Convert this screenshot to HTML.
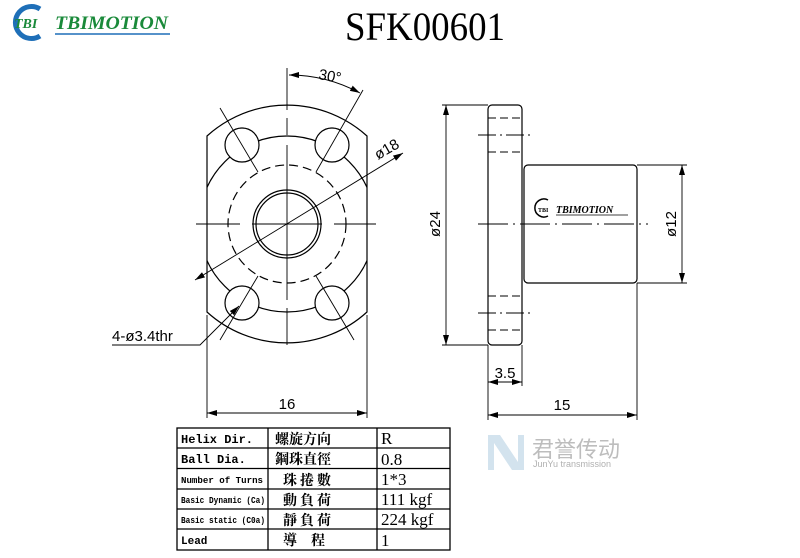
<!DOCTYPE html>
<html><head><meta charset="utf-8"><style>
html,body{margin:0;padding:0;background:#fff;}
svg{display:block;}
</style></head><body>
<svg width="800" height="558" viewBox="0 0 800 558" xmlns="http://www.w3.org/2000/svg" font-family="Liberation Sans, sans-serif">
<defs>
<marker id="a" viewBox="0 0 10 6" refX="10" refY="3" markerWidth="10" markerHeight="6" orient="auto-start-reverse" markerUnits="userSpaceOnUse"><path d="M0,0L10,3L0,6z" fill="#000"/></marker>
<clipPath id="fl"><path d="M207,136 A119,119 0 0 1 367,136 L367,312 A119,119 0 0 1 207,312 Z"/></clipPath>
</defs>
<!-- header logo -->
<path d="M40,9 A16,16 0 1 0 40,36" fill="none" stroke="#1e6fb8" stroke-width="5"/>
<text x="14" y="28" font-family="Liberation Serif, serif" font-weight="bold" font-style="italic" font-size="14" fill="#1a8a3a">TBI</text>
<text x="55" y="29" font-family="Liberation Serif, serif" font-weight="bold" font-style="italic" font-size="19" fill="#1a8a3a" textLength="113" lengthAdjust="spacingAndGlyphs">TBIMOTION</text>
<line x1="55" y1="34" x2="170" y2="34" stroke="#1e6fb8" stroke-width="1.5"/>
<text x="425" y="40" text-anchor="middle" font-family="Liberation Serif, serif" font-size="40" textLength="160" lengthAdjust="spacingAndGlyphs">SFK00601</text>

<g fill="none" stroke="#000" stroke-width="1.2">
<!-- front view -->
<path d="M207,136 A119,119 0 0 1 367,136 L367,312 A119,119 0 0 1 207,312 Z"/>
<circle cx="287" cy="224" r="88" clip-path="url(#fl)"/>
<circle cx="287" cy="224" r="59" stroke-dasharray="9,5"/>
<circle cx="287" cy="224" r="34"/>
<circle cx="287" cy="224" r="31"/>
<circle cx="242" cy="145" r="17" fill="#fff"/>
<circle cx="332" cy="145" r="17" fill="#fff"/>
<circle cx="242" cy="303" r="17" fill="#fff"/>
<circle cx="332" cy="303" r="17" fill="#fff"/>
<g stroke-width="0.9">
<line x1="287" y1="68" x2="287" y2="110"/><line x1="287" y1="118" x2="287" y2="135"/>
<line x1="287" y1="145" x2="287" y2="300"/><line x1="287" y1="308" x2="287" y2="345"/>
<line x1="196" y1="224" x2="240" y2="224"/><line x1="252" y1="224" x2="322" y2="224"/><line x1="334" y1="224" x2="376" y2="224"/>
<line x1="220" y1="108" x2="258" y2="172"/>
<line x1="363" y1="90" x2="316" y2="172"/>
<line x1="220" y1="340" x2="258" y2="276"/>
<line x1="354" y1="340" x2="316" y2="276"/>
<line x1="195" y1="280" x2="403" y2="153" marker-start="url(#a)" marker-end="url(#a)"/>
<path d="M289,75 A150,150 0 0 1 360,93" marker-start="url(#a)" marker-end="url(#a)"/>
<path d="M112,345 L200,345 L239,306" marker-end="url(#a)"/>
<line x1="207" y1="315" x2="207" y2="418"/><line x1="367" y1="315" x2="367" y2="418"/>
<line x1="207" y1="413" x2="367" y2="413" marker-start="url(#a)" marker-end="url(#a)"/>
</g>
<!-- side view -->
<rect x="488" y="105" width="34" height="240" rx="4"/>
<rect x="524" y="165" width="113" height="118" rx="4"/>
<g stroke-width="0.9">
<line x1="488" y1="118" x2="522" y2="118" stroke-dasharray="8,4"/>
<line x1="488" y1="152" x2="522" y2="152" stroke-dasharray="8,4"/>
<line x1="488" y1="296" x2="522" y2="296" stroke-dasharray="8,4"/>
<line x1="488" y1="330" x2="522" y2="330" stroke-dasharray="8,4"/>
<line x1="478" y1="135" x2="532" y2="135" stroke-dasharray="18,4,2,4"/>
<line x1="478" y1="313" x2="532" y2="313" stroke-dasharray="18,4,2,4"/>
<line x1="478" y1="224" x2="648" y2="224" stroke-dasharray="30,5,2,5"/>
<line x1="442" y1="105" x2="488" y2="105"/><line x1="442" y1="345" x2="488" y2="345"/>
<line x1="446" y1="105" x2="446" y2="345" marker-start="url(#a)" marker-end="url(#a)"/>
<line x1="637" y1="165" x2="687" y2="165"/><line x1="637" y1="283" x2="687" y2="283"/>
<line x1="682" y1="165" x2="682" y2="283" marker-start="url(#a)" marker-end="url(#a)"/>
<line x1="488" y1="345" x2="488" y2="420"/><line x1="522" y1="345" x2="522" y2="386"/>
<line x1="488" y1="382" x2="522" y2="382" marker-start="url(#a)" marker-end="url(#a)"/>
<line x1="637" y1="283" x2="637" y2="420"/>
<line x1="488" y1="415" x2="637" y2="415" marker-start="url(#a)" marker-end="url(#a)"/>
</g>
<path d="M548,200 A9,9 0 1 0 548,216" stroke-width="1.5"/>
<line x1="556" y1="215" x2="628" y2="215" stroke-width="0.8"/>
</g>
<text x="538" y="212" font-family="Liberation Serif, serif" font-size="6" font-weight="bold">TBI</text>
<text x="556" y="213" font-family="Liberation Serif, serif" font-size="10" font-weight="bold" font-style="italic">TBIMOTION</text>

<g font-size="15" fill="#000">
<text x="318" y="79" transform="rotate(10 318 79)">30°</text>
<text x="378" y="160" transform="rotate(-30 378 160)">ø18</text>
<text x="112" y="341">4-ø3.4thr</text>
<text x="287" y="409" text-anchor="middle">16</text>
<text x="440" y="224" text-anchor="middle" transform="rotate(-90 440 224)">ø24</text>
<text x="676" y="224" text-anchor="middle" transform="rotate(-90 676 224)">ø12</text>
<text x="505" y="378" text-anchor="middle">3.5</text>
<text x="562" y="410" text-anchor="middle">15</text>
</g>

<!-- table -->
<g fill="none" stroke="#000" stroke-width="1.3">
<rect x="177" y="428" width="273" height="122"/>
<line x1="268" y1="428" x2="268" y2="550"/><line x1="377" y1="428" x2="377" y2="550"/>
<line x1="177" y1="448" x2="450" y2="448"/><line x1="177" y1="468.5" x2="450" y2="468.5"/>
<line x1="177" y1="489" x2="450" y2="489"/><line x1="177" y1="509" x2="450" y2="509"/>
<line x1="177" y1="529" x2="450" y2="529"/>
</g>
<g font-family="Liberation Mono, monospace" font-weight="bold" fill="#000">
<text x="181" y="443" font-size="12">Helix  Dir.</text>
<text x="181" y="463" font-size="12">Ball Dia.</text>
<text x="181" y="483" font-size="9" textLength="82" lengthAdjust="spacingAndGlyphs">Number of Turns</text>
<text x="181" y="503" font-size="9" textLength="84" lengthAdjust="spacingAndGlyphs">Basic Dynamic (Ca)</text>
<text x="181" y="523" font-size="9" textLength="84" lengthAdjust="spacingAndGlyphs">Basic static (C0a)</text>
<text x="181" y="544" font-size="11">Lead</text>
</g>
<g font-family="Noto Serif CJK SC, Noto Sans CJK TC, serif" font-weight="bold" font-size="14" fill="#000">
<text x="275" y="444">螺旋方向</text>
<text x="275" y="464">鋼珠直徑</text>
<text x="283" y="485" letter-spacing="3">珠捲數</text>
<text x="283" y="505" letter-spacing="3">動負荷</text>
<text x="283" y="525" letter-spacing="3">靜負荷</text>
<text x="283" y="545">導　程</text>
</g>
<g font-family="Liberation Serif, serif" font-size="17" fill="#000">
<text x="381" y="444">R</text>
<text x="381" y="465">0.8</text>
<text x="381" y="485">1*3</text>
<text x="381" y="505">111 kgf</text>
<text x="381" y="525">224 kgf</text>
<text x="381" y="546">1</text>
</g>
<!-- watermark -->
<g fill="#d3e3ee" stroke="none">
<path d="M488,435 L500,435 L518,462 L518,435 L524,435 L524,470 L512,470 L494,443 L494,470 L488,470Z"/>
</g>
<text x="532" y="457" font-family="Noto Sans CJK SC, sans-serif" font-size="22" fill="#bdbdbd">君誉传动</text>
<text x="533" y="467" font-size="9" fill="#b0b0b0">JunYu transmission</text>
</svg>
</body></html>
